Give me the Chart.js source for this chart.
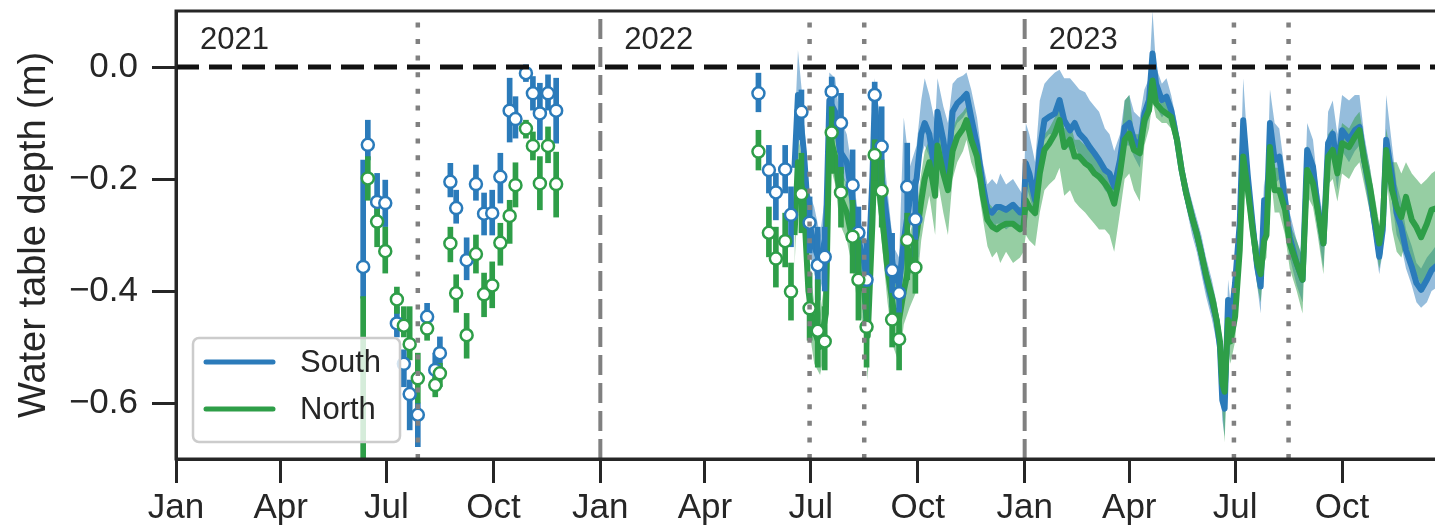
<!DOCTYPE html>
<html><head><meta charset="utf-8">
<script src="https://cdn.jsdelivr.net/npm/chart.js@4.4.1/dist/chart.umd.min.js"></script>
<style>html,body{margin:0;padding:0;overflow:hidden;background:#fff;}canvas{display:block;}</style>
</head><body>
<canvas id="c" width="1460" height="529"></canvas>
<script>
// ---------- DATA ----------
const seriesNames = ['South', 'North'];
const axisTitle = 'Water table depth (m)';
const yearLabels = ['2021', '2022', '2023'];
const yearStarts = ['2021-01-01', '2022-01-01', '2023-01-01'];
const xTickDates = ['2021-01-01','2021-04-01','2021-07-01','2021-10-01','2022-01-01','2022-04-01','2022-07-01','2022-10-01','2023-01-01','2023-04-01','2023-07-01','2023-10-01'];
const xTickLabels = ['Jan','Apr','Jul','Oct','Jan','Apr','Jul','Oct','Jan','Apr','Jul','Oct'];
const yTickValues = [-0.6, -0.4, -0.2, 0.0];
const yTickLabels = ['\u22120.6', '\u22120.4', '\u22120.2', '0.0'];
const xRange = ['2021-01-01', '2024-01-01'];
const yRange = [-0.7, 0.1];
const yearBoundaryDates = ['2022-01-01', '2023-01-01'];
const seasonMarkerDates = ['2021-07-28', '2022-06-30', '2022-08-16', '2023-06-30', '2023-08-16'];

// manual measurements (mean and error bar bounds)
const manualDates = ['2021-06-11','2021-06-15','2021-06-23','2021-06-30','2021-07-10','2021-07-16','2021-07-21','2021-07-28','2021-08-05','2021-08-12','2021-08-16','2021-08-25','2021-08-30','2021-09-08','2021-09-16','2021-09-23','2021-09-30','2021-10-07','2021-10-15','2021-10-20','2021-10-29','2021-11-04','2021-11-10','2021-11-17','2021-11-24',
 '2022-05-17','2022-05-26','2022-06-01','2022-06-09','2022-06-14','2022-06-23','2022-06-30','2022-07-07','2022-07-13','2022-07-19','2022-07-27','2022-08-06','2022-08-11','2022-08-18','2022-08-25','2022-08-31','2022-09-09','2022-09-15','2022-09-22','2022-09-29'];
const southManual = [-0.357,-0.139,-0.241,-0.243,-0.458,-0.530,-0.584,-0.621,-0.446,-0.541,-0.511,-0.205,-0.252,-0.345,-0.209,-0.262,-0.261,-0.196,-0.078,-0.093,-0.011,-0.047,-0.083,-0.047,-0.078,
 -0.047,-0.184,-0.224,-0.183,-0.264,-0.080,-0.278,-0.354,-0.339,-0.044,-0.100,-0.211,-0.296,-0.380,-0.050,-0.142,-0.363,-0.404,-0.214,-0.272];
const southManualLo = [-0.413,-0.166,-0.267,-0.285,-0.482,-0.571,-0.648,-0.678,-0.470,-0.559,-0.541,-0.232,-0.279,-0.380,-0.238,-0.300,-0.300,-0.243,-0.134,-0.127,-0.026,-0.077,-0.130,-0.077,-0.136,
 -0.080,-0.225,-0.273,-0.225,-0.321,-0.130,-0.332,-0.416,-0.400,-0.071,-0.190,-0.273,-0.368,-0.457,-0.077,-0.225,-0.429,-0.439,-0.286,-0.339];
const southManualHi = [-0.166,-0.095,-0.190,-0.202,-0.428,-0.505,-0.559,-0.600,-0.422,-0.511,-0.482,-0.172,-0.220,-0.305,-0.175,-0.225,-0.220,-0.154,-0.020,-0.053,0.004,-0.017,-0.029,-0.014,-0.020,
 -0.011,-0.140,-0.190,-0.140,-0.214,-0.041,-0.232,-0.286,-0.286,-0.018,-0.047,-0.148,-0.250,-0.309,-0.027,-0.071,-0.297,-0.368,-0.136,-0.202];
const northManual = [-0.85,-0.199,-0.276,-0.329,-0.415,-0.462,-0.495,-0.556,-0.467,-0.568,-0.547,-0.315,-0.404,-0.479,-0.334,-0.406,-0.390,-0.314,-0.266,-0.211,-0.110,-0.141,-0.208,-0.141,-0.209,
 -0.151,-0.296,-0.342,-0.311,-0.401,-0.227,-0.431,-0.471,-0.490,-0.117,-0.224,-0.303,-0.380,-0.464,-0.157,-0.221,-0.451,-0.486,-0.309,-0.358];
const northManualLo = [-1.2,-0.238,-0.321,-0.368,-0.440,-0.482,-0.523,-0.600,-0.488,-0.589,-0.571,-0.348,-0.438,-0.520,-0.368,-0.446,-0.430,-0.354,-0.315,-0.250,-0.127,-0.166,-0.255,-0.171,-0.268,
 -0.184,-0.339,-0.393,-0.357,-0.452,-0.296,-0.488,-0.536,-0.541,-0.190,-0.286,-0.368,-0.452,-0.536,-0.202,-0.286,-0.500,-0.541,-0.380,-0.404];
const northManualHi = [-0.41,-0.160,-0.250,-0.286,-0.393,-0.428,-0.428,-0.511,-0.452,-0.553,-0.529,-0.286,-0.371,-0.440,-0.300,-0.368,-0.348,-0.279,-0.238,-0.171,-0.095,-0.116,-0.160,-0.107,-0.152,
 -0.113,-0.250,-0.286,-0.261,-0.350,-0.154,-0.368,-0.380,-0.428,-0.071,-0.179,-0.238,-0.309,-0.380,-0.130,-0.166,-0.404,-0.439,-0.261,-0.309];

// continuous logger series (mean line and shaded range)
const sensorDates = ['2022-06-17','2022-06-20','2022-06-25','2022-06-29','2022-07-04','2022-07-09','2022-07-14','2022-07-17','2022-07-22','2022-07-26',
 '2022-08-01','2022-08-06','2022-08-10','2022-08-16','2022-08-19','2022-08-23','2022-08-25','2022-08-30','2022-09-05','2022-09-10',
 '2022-09-15','2022-09-19','2022-09-24','2022-09-30','2022-10-04','2022-10-07','2022-10-11','2022-10-16','2022-10-18','2022-10-23',
 '2022-10-27','2022-10-31','2022-11-04','2022-11-09','2022-11-12','2022-11-16','2022-11-21','2022-11-26','2022-11-30','2022-12-04',
 '2022-12-08','2022-12-11','2022-12-16','2022-12-22','2022-12-28','2022-12-31','2023-01-02','2023-01-05','2023-01-10','2023-01-14',
 '2023-01-18','2023-01-22','2023-01-27','2023-01-31','2023-02-04','2023-02-09','2023-02-13','2023-02-17','2023-02-22','2023-02-26',
 '2023-03-02','2023-03-06','2023-03-11','2023-03-15','2023-03-19','2023-03-24','2023-03-28','2023-04-01','2023-04-05','2023-04-10',
 '2023-04-14','2023-04-18','2023-04-21','2023-04-24','2023-04-29','2023-05-03','2023-05-07','2023-05-12','2023-05-16','2023-05-20',
 '2023-05-25','2023-05-29','2023-06-02','2023-06-06','2023-06-11','2023-06-15','2023-06-18','2023-06-20','2023-06-22','2023-06-25',
 '2023-06-27','2023-07-01','2023-07-05','2023-07-08','2023-07-12','2023-07-16','2023-07-20','2023-07-23','2023-07-26','2023-07-28',
 '2023-07-31','2023-08-04','2023-08-08','2023-08-13','2023-08-17','2023-08-23','2023-08-28','2023-09-01','2023-09-06','2023-09-10',
 '2023-09-15','2023-09-19','2023-09-23','2023-09-27','2023-10-01','2023-10-07','2023-10-12','2023-10-16','2023-10-20','2023-10-25',
 '2023-10-29','2023-11-02','2023-11-05','2023-11-08','2023-11-13','2023-11-17','2023-11-21','2023-11-25','2023-11-30','2023-12-04',
 '2023-12-08','2023-12-13','2023-12-17','2023-12-24','2023-12-31'];
const southLine = [-0.18,-0.05,-0.15,-0.27,-0.32,-0.35,-0.30,-0.06,-0.08,-0.15,
 -0.17,-0.24,-0.30,-0.35,-0.39,-0.20,-0.06,-0.18,-0.28,-0.36,
 -0.39,-0.31,-0.24,-0.20,-0.12,-0.10,-0.12,-0.19,-0.08,-0.13,
 -0.19,-0.08,-0.065,-0.055,-0.048,-0.09,-0.14,-0.21,-0.255,-0.26,
 -0.25,-0.25,-0.255,-0.246,-0.26,-0.26,-0.172,-0.19,-0.238,-0.148,
 -0.095,-0.089,-0.083,-0.059,-0.095,-0.113,-0.10,-0.119,-0.13,-0.143,
 -0.154,-0.166,-0.184,-0.19,-0.214,-0.166,-0.107,-0.10,-0.13,-0.143,
 -0.083,-0.059,0.024,-0.03,-0.059,-0.053,-0.077,-0.13,-0.184,-0.226,
 -0.268,-0.297,-0.333,-0.375,-0.416,-0.452,-0.50,-0.595,-0.61,-0.416,
 -0.46,-0.386,-0.279,-0.095,-0.196,-0.279,-0.357,-0.392,-0.238,-0.28,
 -0.10,-0.166,-0.16,-0.238,-0.304,-0.351,-0.38,-0.148,-0.178,-0.25,
 -0.315,-0.136,-0.119,-0.184,-0.113,-0.13,-0.113,-0.107,-0.166,-0.22,
 -0.279,-0.339,-0.291,-0.13,-0.196,-0.261,-0.286,-0.327,-0.357,-0.386,
 -0.398,-0.38,-0.363,-0.35,-0.34];
const southLow = [-0.24,-0.09,-0.20,-0.32,-0.37,-0.40,-0.36,-0.10,-0.12,-0.19,
 -0.21,-0.28,-0.34,-0.40,-0.45,-0.26,-0.10,-0.22,-0.32,-0.40,
 -0.43,-0.36,-0.29,-0.25,-0.16,-0.14,-0.16,-0.23,-0.12,-0.17,
 -0.22,-0.12,-0.10,-0.09,-0.08,-0.12,-0.17,-0.24,-0.28,-0.29,
 -0.28,-0.28,-0.29,-0.28,-0.29,-0.29,-0.21,-0.23,-0.27,-0.18,
 -0.13,-0.12,-0.12,-0.10,-0.13,-0.15,-0.14,-0.16,-0.17,-0.18,
 -0.19,-0.20,-0.22,-0.23,-0.25,-0.20,-0.14,-0.14,-0.16,-0.18,
 -0.12,-0.09,-0.02,-0.07,-0.09,-0.08,-0.10,-0.15,-0.21,-0.25,
 -0.30,-0.33,-0.37,-0.41,-0.45,-0.49,-0.54,-0.63,-0.66,-0.46,
 -0.50,-0.42,-0.32,-0.14,-0.24,-0.32,-0.39,-0.44,-0.28,-0.32,
 -0.15,-0.21,-0.20,-0.28,-0.34,-0.39,-0.42,-0.19,-0.22,-0.29,
 -0.36,-0.18,-0.16,-0.22,-0.15,-0.17,-0.15,-0.14,-0.20,-0.26,
 -0.31,-0.37,-0.33,-0.17,-0.24,-0.30,-0.32,-0.36,-0.39,-0.42,
 -0.43,-0.42,-0.40,-0.39,-0.38];
const southHigh = [-0.12,0.03,-0.08,-0.22,-0.25,-0.30,-0.22,-0.01,-0.02,-0.09,
 -0.12,-0.19,-0.25,-0.30,-0.33,-0.12,-0.02,-0.10,-0.22,-0.32,
 -0.34,-0.09,-0.18,-0.14,-0.06,-0.02,-0.05,-0.10,-0.02,-0.07,
 -0.10,-0.03,-0.02,-0.015,-0.01,-0.04,-0.09,-0.17,-0.21,-0.20,
 -0.21,-0.19,-0.21,-0.20,-0.22,-0.23,-0.10,-0.12,-0.17,-0.06,
 -0.03,-0.02,-0.01,-0.005,-0.02,-0.02,-0.03,-0.04,-0.045,-0.06,
 -0.07,-0.08,-0.11,-0.12,-0.15,-0.12,-0.06,-0.05,-0.08,-0.09,
 -0.04,-0.02,0.10,0.0,-0.03,-0.02,-0.05,-0.10,-0.16,-0.20,
 -0.24,-0.27,-0.30,-0.34,-0.38,-0.42,-0.46,-0.55,-0.57,-0.38,
 -0.42,-0.34,-0.23,-0.02,-0.15,-0.24,-0.31,-0.35,-0.20,-0.24,
 -0.04,-0.10,-0.11,-0.19,-0.26,-0.31,-0.34,-0.10,-0.13,-0.21,
 -0.27,-0.08,-0.06,-0.12,-0.05,-0.06,-0.05,-0.05,-0.12,-0.18,
 -0.24,-0.30,-0.25,-0.05,-0.14,-0.21,-0.24,-0.29,-0.32,-0.35,
 -0.36,-0.34,-0.33,-0.31,-0.30];
const northLine = [-0.30,-0.17,-0.24,-0.40,-0.47,-0.50,-0.44,-0.12,-0.16,-0.23,
 -0.26,-0.31,-0.36,-0.40,-0.48,-0.28,-0.15,-0.24,-0.36,-0.43,
 -0.45,-0.40,-0.35,-0.30,-0.24,-0.20,-0.17,-0.23,-0.14,-0.19,
 -0.22,-0.15,-0.125,-0.11,-0.095,-0.13,-0.16,-0.23,-0.273,-0.285,
 -0.29,-0.285,-0.28,-0.28,-0.29,-0.285,-0.238,-0.25,-0.261,-0.19,
 -0.148,-0.137,-0.119,-0.095,-0.143,-0.13,-0.16,-0.16,-0.172,-0.178,
 -0.19,-0.196,-0.208,-0.22,-0.244,-0.19,-0.13,-0.119,-0.148,-0.154,
 -0.095,-0.077,-0.024,-0.065,-0.077,-0.083,-0.089,-0.13,-0.184,-0.226,
 -0.268,-0.297,-0.333,-0.37,-0.41,-0.45,-0.49,-0.565,-0.58,-0.452,
 -0.49,-0.446,-0.327,-0.16,-0.22,-0.29,-0.35,-0.37,-0.31,-0.30,
 -0.143,-0.22,-0.22,-0.255,-0.315,-0.351,-0.38,-0.184,-0.208,-0.255,
 -0.315,-0.16,-0.148,-0.19,-0.136,-0.143,-0.125,-0.113,-0.166,-0.214,
 -0.268,-0.315,-0.28,-0.148,-0.22,-0.25,-0.268,-0.232,-0.273,-0.286,
 -0.304,-0.28,-0.255,-0.25,-0.25];
const northLow = [-0.36,-0.22,-0.30,-0.46,-0.53,-0.55,-0.50,-0.17,-0.21,-0.28,
 -0.31,-0.36,-0.42,-0.47,-0.56,-0.35,-0.20,-0.29,-0.42,-0.50,
 -0.53,-0.46,-0.43,-0.40,-0.31,-0.27,-0.23,-0.30,-0.20,-0.26,
 -0.30,-0.20,-0.17,-0.15,-0.13,-0.17,-0.20,-0.27,-0.32,-0.34,
 -0.33,-0.35,-0.33,-0.35,-0.34,-0.33,-0.30,-0.31,-0.32,-0.26,
 -0.22,-0.21,-0.20,-0.18,-0.23,-0.22,-0.24,-0.25,-0.26,-0.27,
 -0.28,-0.29,-0.29,-0.30,-0.33,-0.26,-0.20,-0.19,-0.22,-0.24,
 -0.14,-0.11,-0.06,-0.09,-0.10,-0.10,-0.11,-0.15,-0.20,-0.25,
 -0.29,-0.32,-0.36,-0.40,-0.44,-0.48,-0.53,-0.61,-0.67,-0.50,
 -0.53,-0.49,-0.37,-0.20,-0.26,-0.33,-0.39,-0.42,-0.35,-0.34,
 -0.18,-0.26,-0.26,-0.30,-0.36,-0.40,-0.44,-0.23,-0.25,-0.30,
 -0.37,-0.21,-0.20,-0.24,-0.19,-0.20,-0.18,-0.17,-0.21,-0.26,
 -0.31,-0.36,-0.33,-0.19,-0.29,-0.33,-0.34,-0.31,-0.35,-0.37,
 -0.39,-0.38,-0.36,-0.35,-0.35];
const northHigh = [-0.24,-0.12,-0.18,-0.34,-0.42,-0.44,-0.37,-0.07,-0.11,-0.18,
 -0.21,-0.26,-0.31,-0.34,-0.42,-0.22,-0.10,-0.19,-0.31,-0.38,
 -0.40,-0.34,-0.30,-0.25,-0.19,-0.15,-0.13,-0.18,-0.10,-0.15,
 -0.18,-0.11,-0.09,-0.08,-0.07,-0.10,-0.13,-0.20,-0.24,-0.25,
 -0.26,-0.25,-0.25,-0.25,-0.25,-0.25,-0.20,-0.21,-0.22,-0.16,
 -0.12,-0.11,-0.09,-0.07,-0.11,-0.10,-0.13,-0.13,-0.14,-0.15,
 -0.16,-0.17,-0.18,-0.19,-0.21,-0.16,-0.06,-0.05,-0.12,-0.12,
 -0.07,-0.05,0.0,-0.04,-0.06,-0.06,-0.07,-0.11,-0.16,-0.21,
 -0.25,-0.28,-0.31,-0.35,-0.39,-0.42,-0.46,-0.53,-0.54,-0.42,
 -0.45,-0.40,-0.29,-0.12,-0.18,-0.25,-0.31,-0.33,-0.27,-0.26,
 -0.10,-0.18,-0.18,-0.22,-0.28,-0.31,-0.34,-0.14,-0.17,-0.22,
 -0.28,-0.12,-0.11,-0.15,-0.10,-0.11,-0.09,-0.08,-0.13,-0.18,
 -0.23,-0.28,-0.24,-0.11,-0.17,-0.17,-0.19,-0.17,-0.19,-0.20,
 -0.21,-0.20,-0.19,-0.18,-0.18];

// ---------- STYLE ----------
const FONT = "'Liberation Sans', Arial, Helvetica, sans-serif";
const INK = '#262626';
const BLUE = '#2b7bba', GREEN = '#2e9e48';
const BLUE_BAND = 'rgba(43,123,186,0.5)', GREEN_BAND = 'rgba(46,158,72,0.5)';

const ORIGIN = Date.UTC(2021, 0, 1);
function dayNum(s) { const p = s.split('-').map(Number); return (Date.UTC(p[0], p[1] - 1, p[2]) - ORIGIN) / 86400000; }
const series = (dates, vals) => dates.map((d, i) => ({ x: dayNum(d), y: vals[i] }));
const ranges = (dates, lo, hi) => dates.map((d, i) => ({ x: dayNum(d), y: [lo[i], hi[i]] }));

const bandDs = (vals, fill, color, order) => ({
  type: 'line', data: series(sensorDates, vals), borderWidth: 0, borderColor: 'rgba(0,0,0,0)',
  pointRadius: 0, fill: fill, backgroundColor: color, order: order, tension: 0
});
const datasets = [
  bandDs(southHigh, '+1', BLUE_BAND, 9),
  bandDs(southLow, false, BLUE_BAND, 9),
  bandDs(northHigh, '+1', GREEN_BAND, 8),
  bandDs(northLow, false, GREEN_BAND, 8),
  { type: 'line', label: seriesNames[0], data: series(sensorDates, southLine), borderColor: BLUE, borderWidth: 6, pointRadius: 0, fill: false, order: 7, borderJoinStyle: 'round' },
  { type: 'line', label: seriesNames[1], data: series(sensorDates, northLine), borderColor: GREEN, borderWidth: 6, pointRadius: 0, fill: false, order: 6, borderJoinStyle: 'round' },
  { type: 'bar', data: ranges(manualDates, southManualLo, southManualHi), backgroundColor: BLUE, barThickness: 5, grouped: false, borderWidth: 0, order: 5 },
  { type: 'bar', data: ranges(manualDates, northManualLo, northManualHi), backgroundColor: GREEN, barThickness: 5, grouped: false, borderWidth: 0, order: 4 },
  { type: 'line', data: series(manualDates, southManual), showLine: false, pointRadius: 6, pointBorderWidth: 2.5, pointBackgroundColor: '#ffffff', pointBorderColor: BLUE, order: 3 },
  { type: 'line', data: series(manualDates, northManual), showLine: false, pointRadius: 6, pointBorderWidth: 2.5, pointBackgroundColor: '#ffffff', pointBorderColor: GREEN, order: 2 },
  { type: 'line', data: [{ x: dayNum(xRange[0]), y: 0 }, { x: dayNum(xRange[1]), y: 0 }], borderColor: '#111111', borderWidth: 5, borderDash: [23, 10], pointRadius: 0, fill: false, order: 1 }
];
yearBoundaryDates.forEach(d => datasets.push({ type: 'line', data: [{ x: dayNum(d), y: yRange[0] }, { x: dayNum(d), y: yRange[1] }], borderColor: '#808080', borderWidth: 4, borderDash: [20, 8], pointRadius: 0, fill: false, order: 0 }));
seasonMarkerDates.forEach(d => datasets.push({ type: 'line', data: [{ x: dayNum(d), y: yRange[0] }, { x: dayNum(d), y: yRange[1] }], borderColor: '#808080', borderWidth: 4.5, borderDash: [5, 11.6], pointRadius: 0, fill: false, order: 0 }));

const framePlugin = {
  id: 'frame',
  afterDatasetsDraw(chart) {
    const { ctx, chartArea: a } = chart;
    ctx.save();
    ctx.strokeStyle = INK; ctx.lineWidth = 3;
    ctx.strokeRect(a.left, a.top, a.right - a.left, a.bottom - a.top);
    ctx.fillStyle = INK; ctx.font = '31px ' + FONT; ctx.textBaseline = 'alphabetic'; ctx.textAlign = 'left';
    const xs = chart.scales.x;
    yearLabels.forEach((t, i) => ctx.fillText(t, xs.getPixelForValue(dayNum(yearStarts[i])) + 24, 49));
    ctx.restore();
  },
  afterDraw(chart) {
    const { ctx } = chart;
    ctx.save();
    const bx = 193, by = 338, bw = 207, bh = 104;
    ctx.beginPath();
    ctx.roundRect(bx, by, bw, bh, 6);
    ctx.fillStyle = 'rgba(255,255,255,0.8)'; ctx.fill();
    ctx.strokeStyle = '#cccccc'; ctx.lineWidth = 2.5; ctx.stroke();
    const items = [{ c: BLUE, t: seriesNames[0], y: 362 }, { c: GREEN, t: seriesNames[1], y: 409 }];
    items.forEach(it => {
      ctx.beginPath(); ctx.strokeStyle = it.c; ctx.lineWidth = 5; ctx.lineCap = 'round';
      ctx.moveTo(206, it.y); ctx.lineTo(273, it.y); ctx.stroke();
      ctx.fillStyle = INK; ctx.font = '31px ' + FONT; ctx.textBaseline = 'middle'; ctx.textAlign = 'left';
      ctx.fillText(it.t, 300, it.y + 1);
    });
    ctx.restore();
  }
};

new Chart(document.getElementById('c'), {
  type: 'line',
  data: { datasets },
  options: {
    responsive: false, animation: false, devicePixelRatio: 1, events: [],
    layout: { padding: { top: 11, right: 11, left: 0, bottom: 0 } },
    plugins: { legend: { display: false }, tooltip: { enabled: false } },
    scales: {
      x: {
        type: 'linear', min: dayNum(xRange[0]), max: dayNum(xRange[1]), offset: false,
        afterBuildTicks: s => { s.ticks = xTickDates.map(d => ({ value: dayNum(d) })); },
        afterFit: s => { s.height = 70; s.paddingLeft = 0; s.paddingRight = 0; },
        ticks: { autoSkip: false, maxRotation: 0, padding: 4, color: INK, font: { family: FONT, size: 35 }, callback: (v, i) => xTickLabels[i] },
        grid: { display: true, drawOnChartArea: false, drawTicks: true, tickLength: 24, tickWidth: 3, tickColor: INK, offset: false },
        border: { display: true, color: INK, width: 3 }
      },
      y: {
        type: 'linear', min: yRange[0], max: yRange[1],
        afterBuildTicks: s => { s.ticks = yTickValues.map(v => ({ value: v })); },
        afterFit: s => { s.width = 176; s.paddingTop = 0; s.paddingBottom = 0; },
        ticks: { padding: 14, color: INK, font: { family: FONT, size: 35 }, callback: (v, i) => yTickLabels[i] },
        grid: { display: true, drawOnChartArea: false, drawTicks: true, tickLength: 24, tickWidth: 3, tickColor: INK },
        border: { display: true, color: INK, width: 3 },
        title: { display: true, text: axisTitle, color: INK, font: { family: FONT, size: 38 }, padding: { top: 12, bottom: 0 } }
      }
    }
  },
  plugins: [framePlugin]
});
</script>
</body></html>
